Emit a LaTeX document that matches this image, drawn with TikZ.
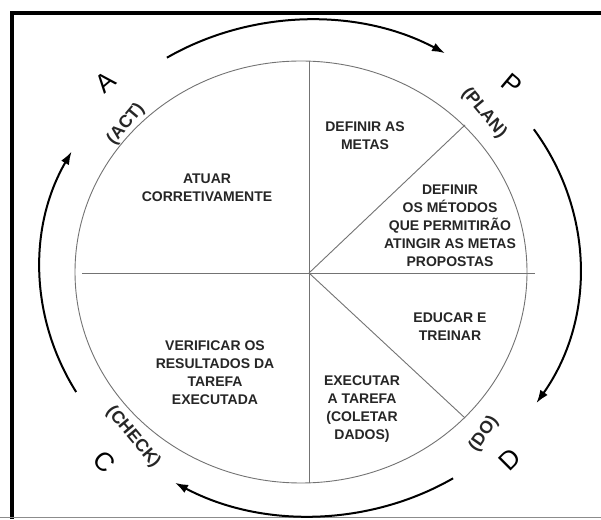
\documentclass[tikz,border=0pt]{standalone}
\usepackage{fontspec}
\setmainfont{Liberation Sans}
\usetikzlibrary{arrows.meta}
\begin{document}
\begin{tikzpicture}[x=1pt,y=1pt,
  inner/.style={draw=black!55,line width=0.9pt},
  cycarrow/.style={draw=black,line width=2pt,-{Latex[length=13pt,width=9pt]}},
  txt/.style={align=center,font=\bfseries\fontsize{14}{18}\selectfont,inner sep=0pt,text=black!85},
  phase/.style={font=\bfseries\fontsize{17.5}{18}\selectfont,inner sep=0pt,text=black!85},
  letter/.style={font=\fontsize{26}{26}\selectfont,inner sep=0pt}]
\useasboundingbox (0,0) rectangle (601,519);
\fill[white] (0,0) rectangle (601,519);
% frame
\draw[black,line width=4.5pt] (12,0) -- (12,506) -- (601,506);
\draw[black!45,line width=0.8pt] (0,2) -- (601,2);
% circle and divisions
\coordinate (c) at (301,247);
\coordinate (o) at (309,246);
\coordinate (top) at (309,458);
\coordinate (bot) at (309,36);
\coordinate (l) at (82,246);
\coordinate (r) at (535,246);
\coordinate (ur) at (465,394);
\coordinate (lr) at (465,101);
\draw[inner] (c) ellipse [x radius=226, y radius=211];
\draw[inner] (top) -- (bot);
\draw[inner] (l) -- (r);
\draw[inner] (o) -- (ur);
\draw[inner] (o) -- (lr);
% outer cycle arrows
\coordinate (oc) at (310,251);
\draw[cycarrow] (oc) ++(122:270 and 248) arc[start angle=122,end angle=60,x radius=270,y radius=248];
\draw[cycarrow] (oc) ++(34:270 and 248) arc[start angle=34,end angle=-33,x radius=270,y radius=248];
\draw[cycarrow] (oc) ++(-58:270 and 248) arc[start angle=-58,end angle=-120,x radius=270,y radius=248];
\draw[cycarrow] (oc) ++(210:270 and 248) arc[start angle=210,end angle=152,x radius=270,y radius=248];
% texts
\node[txt] (metas) at (365,383) {DEFINIR AS\\METAS};
\node[txt] (atuar) at (207,331) {ATUAR\\CORRETIVAMENTE};
\node[txt] (metodos) at (450,293) {DEFINIR\\OS MÉTODOS\\QUE PERMITIRÃO\\ATINGIR AS METAS\\PROPOSTAS};
\node[txt] (educar) at (450,192) {EDUCAR E\\TREINAR};
\node[txt] (verificar) at (215,146) {VERIFICAR OS\\RESULTADOS DA\\TAREFA\\EXECUTADA};
\node[txt] (executar) at (362,110) {EXECUTAR\\A TAREFA\\(COLETAR\\DADOS)};
% phase labels
\node[letter,rotate=40] (la) at (105,437) {A};
\node[phase,rotate=50] (act) at (126,395) {(ACT)};
\node[letter,rotate=-40] (lp) at (512,435) {P};
\node[phase,rotate=-50] (plan) at (484,406) {(PLAN)};
\node[phase,rotate=55] (do) at (484,85) {(DO)};
\node[letter,rotate=45] (ld) at (510,59) {D};
\node[phase,rotate=-50] (check) at (133,82) {(CHECK)};
\node[letter,rotate=-45] (lc) at (104,57) {C};
\end{tikzpicture}
\end{document}
